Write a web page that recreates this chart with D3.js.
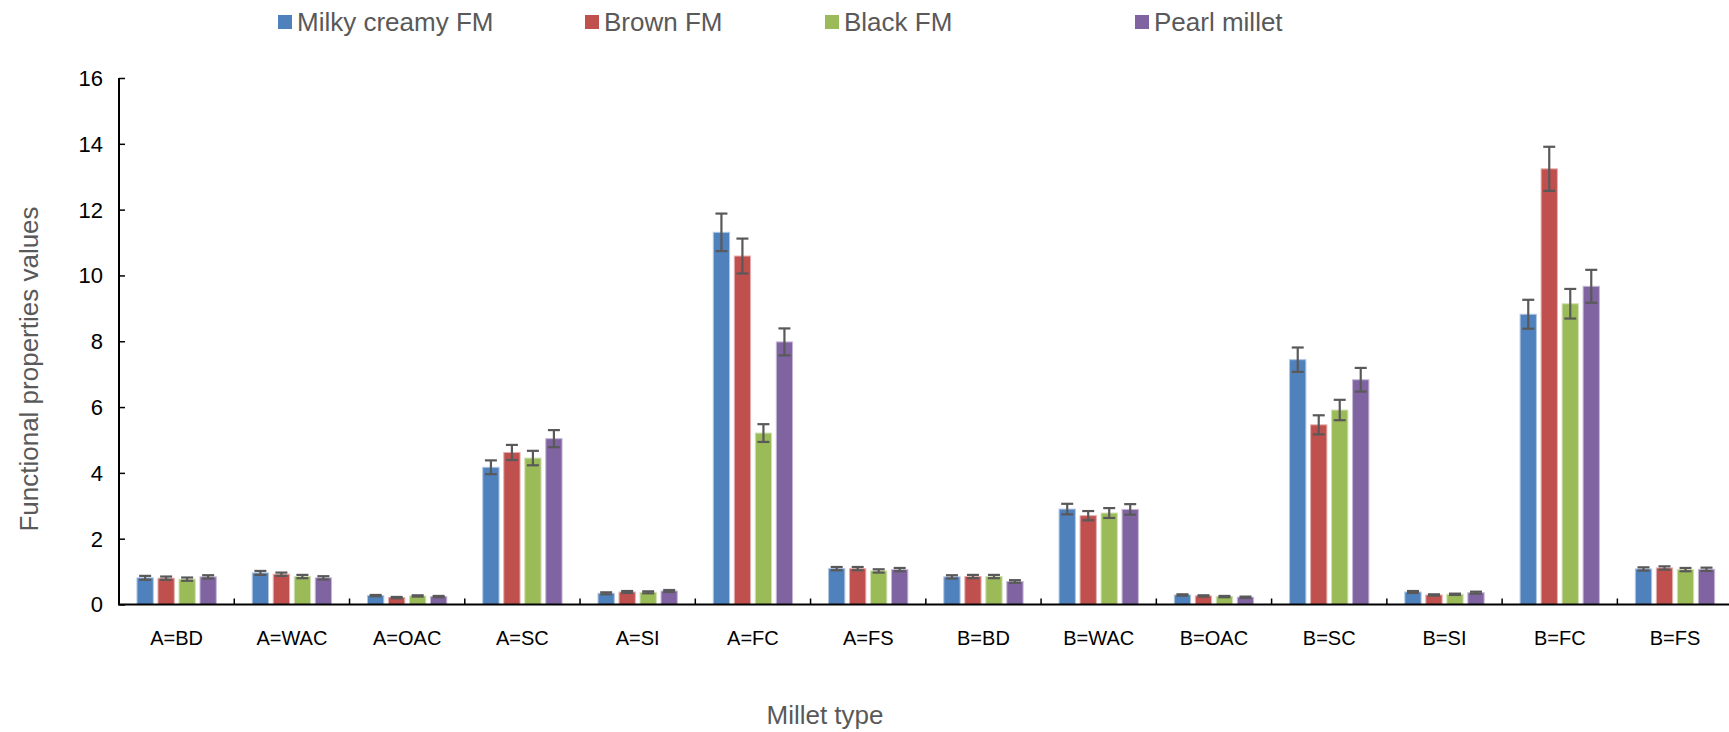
<!DOCTYPE html>
<html>
<head>
<meta charset="utf-8">
<script src="https://cdn.jsdelivr.net/npm/d3@7"></script>
<style>
  html, body { margin: 0; padding: 0; background: #fff; }
  svg { display: block; }
</style>
</head>
<body>
<svg id="chart" width="1729" height="732"></svg>
<script>
// Categories on the x axis
const categories = ["A=BD", "A=WAC", "A=OAC", "A=SC", "A=SI", "A=FC", "A=FS",
  "B=BD", "B=WAC", "B=OAC", "B=SC", "B=SI", "B=FC", "B=FS"];

const seriesNames = ["Milky creamy FM", "Brown FM", "Black FM", "Pearl millet"];
const seriesColors = ["#4F81BD", "#C0504D", "#9BBB59", "#8064A2"];

// Values
const milky = [0.81, 0.96, 0.27, 4.17, 0.34, 11.31, 1.09, 0.84, 2.90, 0.29, 7.44, 0.38, 8.82, 1.08];
const brown = [0.80, 0.92, 0.21, 4.62, 0.38, 10.59, 1.09, 0.85, 2.70, 0.26, 5.46, 0.29, 13.24, 1.11];
const black = [0.77, 0.85, 0.26, 4.45, 0.37, 5.21, 1.02, 0.85, 2.78, 0.24, 5.91, 0.31, 9.14, 1.06];
const pearl = [0.84, 0.81, 0.24, 5.04, 0.41, 7.98, 1.06, 0.70, 2.89, 0.22, 6.83, 0.36, 9.67, 1.07];

// Error bar half-lengths
const milkyErr = [0.06, 0.06, 0.02, 0.21, 0.03, 0.57, 0.05, 0.05, 0.16, 0.02, 0.37, 0.03, 0.44, 0.05];
const brownErr = [0.05, 0.05, 0.02, 0.23, 0.03, 0.53, 0.05, 0.05, 0.14, 0.02, 0.29, 0.02, 0.67, 0.05];
const blackErr = [0.05, 0.05, 0.02, 0.22, 0.03, 0.27, 0.05, 0.05, 0.15, 0.02, 0.31, 0.02, 0.45, 0.05];
const pearlErr = [0.05, 0.05, 0.02, 0.26, 0.03, 0.41, 0.05, 0.04, 0.16, 0.02, 0.36, 0.03, 0.50, 0.05];

const yTicks = [0, 2, 4, 6, 8, 10, 12, 14, 16];

const values = [milky, brown, black, pearl];
const errors = [milkyErr, brownErr, blackErr, pearlErr];

const rows = [];
categories.forEach((c, i) => {
  seriesNames.forEach((s, j) => {
    rows.push({ cat: c, series: s, value: values[j][i], err: errors[j][i], color: seriesColors[j] });
  });
});

const svg = d3.select("#chart");
const plotLeft = 119, plotBottom = 604.5, plotTop = 78;
const bandStep = 115.26;
const font = "Liberation Sans, Arial, sans-serif";

const x = d3.scaleBand()
  .domain(categories)
  .range([plotLeft, plotLeft + bandStep * categories.length])
  .paddingInner(0).paddingOuter(0);

const xs = d3.scaleBand()
  .domain(seriesNames)
  .range([0, x.bandwidth()])
  .paddingInner(0.224).paddingOuter(0.856);

const y = d3.scaleLinear().domain([0, 16]).range([plotBottom, plotTop]);

// bars
svg.append("g").selectAll("rect")
  .data(rows)
  .enter().append("rect")
  .attr("x", d => x(d.cat) + xs(d.series))
  .attr("y", d => y(d.value))
  .attr("width", xs.bandwidth())
  .attr("height", d => y(0) - y(d.value))
  .attr("fill", d => d.color)
  .attr("stroke", d => d3.interpolateRgb(d.color, "#ffffff")(0.55))
  .attr("stroke-width", 1);

// error bars
const eb = svg.append("g")
  .attr("stroke", "#595959")
  .attr("stroke-width", 2.2)
  .selectAll("g")
  .data(rows)
  .enter().append("g")
  .attr("transform", d => `translate(${x(d.cat) + xs(d.series) + xs.bandwidth() / 2},0)`);

eb.append("line")
  .attr("y1", d => y(d.value + d.err))
  .attr("y2", d => y(d.value - d.err));
eb.append("line")
  .attr("x1", -6).attr("x2", 6)
  .attr("y1", d => y(d.value + d.err))
  .attr("y2", d => y(d.value + d.err));
eb.append("line")
  .attr("x1", -6).attr("x2", 6)
  .attr("y1", d => y(d.value - d.err))
  .attr("y2", d => y(d.value - d.err));

// y axis, ticks inside
const yAxis = svg.append("g")
  .attr("transform", `translate(${plotLeft},0)`)
  .call(d3.axisRight(y).tickValues(yTicks).tickSize(6).tickFormat(""));
yAxis.select(".domain").attr("stroke", "#000").attr("stroke-width", 2)
  .attr("d", `M0,${plotTop}V${plotBottom}`);
yAxis.selectAll(".tick line").attr("stroke", "#000").attr("stroke-width", 1.5);

svg.append("g").selectAll("text")
  .data(yTicks)
  .enter().append("text")
  .attr("x", 103)
  .attr("y", d => y(d))
  .attr("dy", "0.36em")
  .attr("text-anchor", "end")
  .attr("font-family", font)
  .attr("font-size", 22)
  .attr("fill", "#000")
  .text(d => d);

// x axis, ticks inside between categories
const xAxis = svg.append("g")
  .attr("transform", `translate(0,${plotBottom})`);
xAxis.append("line")
  .attr("x1", plotLeft - 1).attr("x2", 1729)
  .attr("stroke", "#000").attr("stroke-width", 2);
xAxis.selectAll(".sep")
  .data(categories.slice(1))
  .enter().append("line")
  .attr("x1", d => x(d)).attr("x2", d => x(d))
  .attr("y1", 0).attr("y2", -6)
  .attr("stroke", "#000").attr("stroke-width", 1.5);

svg.append("g").selectAll("text")
  .data(categories)
  .enter().append("text")
  .attr("x", d => x(d) + x.bandwidth() / 2)
  .attr("y", 638)
  .attr("dy", "0.36em")
  .attr("text-anchor", "middle")
  .attr("font-family", font)
  .attr("font-size", 20)
  .attr("fill", "#000")
  .text(d => d);

// axis titles
svg.append("text")
  .attr("transform", "translate(29,369) rotate(-90)")
  .attr("dy", "0.35em")
  .attr("text-anchor", "middle")
  .attr("font-family", font)
  .attr("font-size", 26)
  .attr("fill", "#595959")
  .text("Functional properties values");

svg.append("text")
  .attr("x", 825)
  .attr("y", 715)
  .attr("dy", "0.35em")
  .attr("text-anchor", "middle")
  .attr("font-family", font)
  .attr("font-size", 26)
  .attr("fill", "#595959")
  .text("Millet type");

// legend
const legendX = [278, 585, 825, 1135];
const legend = svg.append("g").selectAll("g")
  .data(seriesNames)
  .enter().append("g")
  .attr("transform", (d, i) => `translate(${legendX[i]},22)`);
legend.append("rect")
  .attr("x", 0).attr("y", -7)
  .attr("width", 14).attr("height", 14)
  .attr("fill", (d, i) => seriesColors[i]);
legend.append("text")
  .attr("x", 19)
  .attr("dy", "0.35em")
  .attr("font-family", font)
  .attr("font-size", 26)
  .attr("fill", "#595959")
  .text(d => d);
</script>
</body>
</html>
